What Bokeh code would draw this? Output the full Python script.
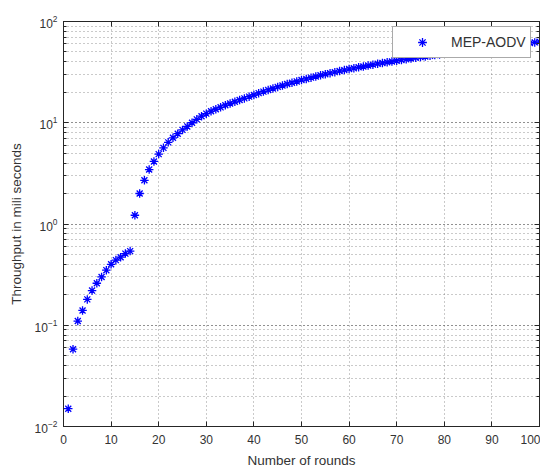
from bokeh.plotting import figure
from bokeh.models import (LinearAxis, LogAxis, SingleIntervalTicker, LogTicker,
                          Legend, LegendItem)
from bokeh.embed import file_html
from bokeh.resources import INLINE

rounds = list(range(1, 101))
throughput = [
    0.015, 0.058, 0.11, 0.14, 0.18, 0.22, 0.26, 0.30, 0.35, 0.40,
    0.44, 0.47, 0.51, 0.54, 1.22, 2.0, 2.7, 3.45, 4.15, 4.9,
    5.65, 6.4, 7.1, 7.8, 8.5, 9.2, 10.0, 10.8, 11.6, 12.3,
    13.0, 13.6, 14.2, 14.9, 15.5, 16.1, 16.8, 17.4, 18.1, 18.8,
    19.6, 20.3, 21.1, 21.8, 22.6, 23.3, 24.1, 24.8, 25.6, 26.4,
    27.1, 27.9, 28.6, 29.4, 30.1, 30.9, 31.6, 32.4, 33.1, 33.9,
    34.6, 35.3, 36.0, 36.7, 37.5, 38.2, 38.9, 39.6, 40.3, 41.0,
    41.7, 42.4, 43.1, 43.8, 44.5, 45.2, 45.9, 46.6, 47.3, 48.0,
    48.7, 49.4, 50.1, 50.8, 51.5, 52.2, 52.9, 53.6, 54.3, 55.0,
    55.8, 56.6, 57.4, 58.2, 59.0, 59.8, 60.6, 61.4, 62.2, 63.0,
]
series_name = "MEP-AODV"
x_label = "Number of rounds"
y_label = "Throughput in mili seconds"

FONT = "Liberation Sans"
AX = "#262626"
TXT = "#333333"

p = figure(frame_width=476, frame_height=405, x_range=(0, 100), y_range=(0.01, 100),
           y_axis_type="log", output_backend="svg", toolbar_location=None,
           min_border_left=63, min_border_top=21, min_border_bottom=45, min_border_right=1,
           background_fill_color="white", border_fill_color="white")
p.outline_line_color = AX

r = p.scatter(rounds, throughput, marker="asterisk", size=8.5, line_color="#0000ff",
              line_width=1.3)

p.xaxis.ticker = SingleIntervalTicker(interval=10)
p.yaxis.ticker = LogTicker(num_minor_ticks=10)
p.xaxis.axis_label = x_label
p.yaxis.axis_label = y_label

for ax in [p.xaxis[0], p.yaxis[0]]:
    ax.axis_line_color = AX
    ax.major_tick_line_color = AX
    ax.minor_tick_line_color = AX
    ax.major_tick_in = 5
    ax.major_tick_out = 0
    ax.minor_tick_in = 3
    ax.minor_tick_out = 0
    ax.major_label_text_font = FONT
    ax.major_label_text_font_size = "12px"
    ax.major_label_text_color = TXT
    ax.axis_label_text_font = FONT
    ax.axis_label_text_font_size = "13.5px"
    ax.axis_label_text_font_style = "normal"
    ax.axis_label_text_color = TXT
p.xaxis.minor_tick_line_color = None
p.xaxis.major_label_standoff = 8
p.xaxis.axis_label_standoff = 6
p.yaxis.major_label_standoff = 6
p.yaxis.axis_label_standoff = 8

top = LinearAxis(ticker=SingleIntervalTicker(interval=10), major_label_text_font_size="0px",
                 major_tick_in=5, major_tick_out=0, minor_tick_line_color=None,
                 axis_line_color=AX, major_tick_line_color=AX)
right = LogAxis(ticker=LogTicker(num_minor_ticks=10), major_label_text_font_size="0px",
                major_tick_in=5, major_tick_out=0, minor_tick_in=3, minor_tick_out=0,
                axis_line_color=AX, major_tick_line_color=AX, minor_tick_line_color=AX)
top.major_label_text_color = None
right.major_label_text_color = None
p.add_layout(top, "above")
p.add_layout(right, "right")

p.xgrid.grid_line_color = "#666666"
p.xgrid.grid_line_dash = "1 3"
p.xgrid.grid_line_alpha = 0.7
p.ygrid.grid_line_color = "#666666"
p.ygrid.grid_line_dash = "1 3"
p.ygrid.grid_line_alpha = 0.7
p.ygrid.minor_grid_line_color = "#666666"
p.ygrid.minor_grid_line_dash = "1 3"
p.ygrid.minor_grid_line_alpha = 0.7

legend = Legend(items=[LegendItem(label=series_name, renderers=[r])],
                location=(329, 368), margin=0, padding=4, glyph_width=50, glyph_height=22,
                label_standoff=4, label_text_font=FONT, label_text_font_size="14px",
                label_text_color=TXT, border_line_color="#555555", border_line_width=1,
                background_fill_color="white", background_fill_alpha=1.0, spacing=0)
p.add_layout(legend, "center")

open("out.html", "w").write(file_html(p, INLINE))
